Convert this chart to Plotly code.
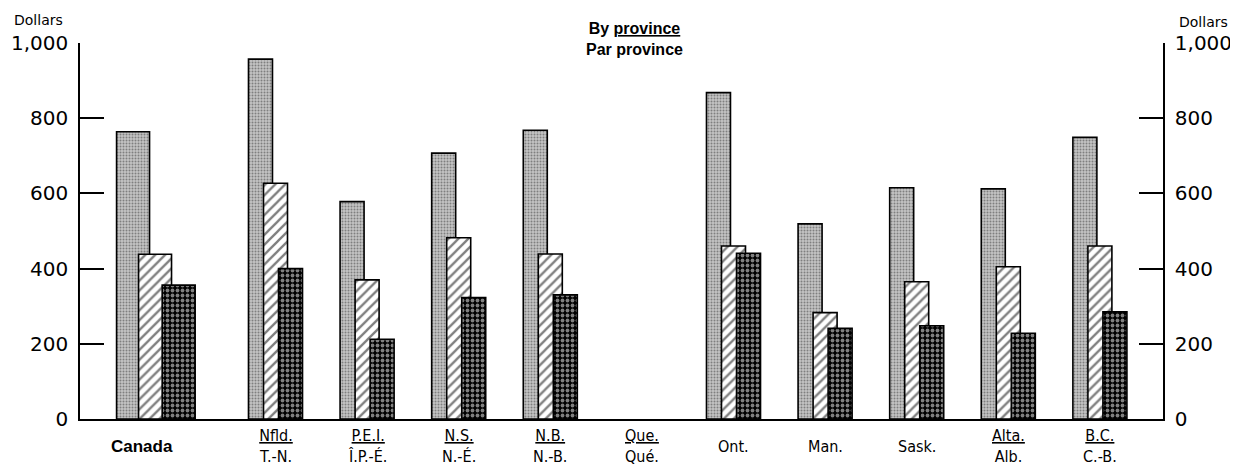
import plotly.graph_objects as go

# ---- data ----
categories = ["Canada", "Nfld.", "P.E.I.", "N.S.", "N.B.", "Que.", "Ont.", "Man.", "Sask.", "Alta.", "B.C."]
labels_fr = ["", "T.-N.", "Î.P.-É.", "N.-É.", "N.-B.", "Qué.", "", "", "", "Alb.", "C.-B."]
series_a = [764, 957, 578, 707, 768, None, 868, 519, 615, 612, 749]
series_b = [438, 627, 370, 482, 439, None, 460, 283, 365, 405, 460]
series_c = [356, 400, 212, 323, 330, None, 441, 241, 248, 228, 285]
y_tickvals = [0, 200, 400, 600, 800, 1000]
y_ticktext = ["0", "200", "400", "600", "800", "1,000"]

# ---- layout helpers (positions / styles) ----
group_pos = [-1.315] + [float(i) for i in range(len(categories) - 1)]
widths = [0.36] + [0.262] * (len(categories) - 1)
shifts = [[-0.24, 0.0, 0.258]] + [[-0.164, 0.0, 0.164]] * (len(categories) - 1)

patterns = [
    dict(shape=".", fgcolor="#3a3a3a", bgcolor="#c4c4c4", size=3, solidity=0.35),
    dict(shape="/", fgcolor="#000000", bgcolor="#ffffff", size=7, solidity=0.33),
    dict(shape=".", fgcolor="#ffffff", bgcolor="#000000", size=5, solidity=0.45),
]

fig = go.Figure()
for k, vals in enumerate([series_a, series_b, series_c]):
    xs = [p + s[k] for p, s in zip(group_pos, shifts)]
    fig.add_trace(go.Bar(
        x=xs, y=vals, width=widths,
        marker=dict(color="white", pattern=patterns[k],
                    line=dict(color="black", width=1.6)),
        showlegend=False, hoverinfo="skip",
    ))
# empty trace so that the right-hand mirror axis is drawn
fig.add_trace(go.Scatter(x=[None], y=[None], yaxis="y2", showlegend=False, hoverinfo="skip"))

# category labels under the baseline
label_font = dict(family="DejaVu Sans Condensed, Liberation Sans Narrow, sans-serif", size=16, color="black")
for i, (en, fr) in enumerate(zip(categories, labels_fr)):
    if i == 0:
        text = "<b>" + en + "</b>"
        xshift = -13
        font = dict(family="Liberation Sans Narrow, sans-serif", size=17, color="black")
    else:
        text = ("<u>" + en + "</u><br>" + fr) if fr else en
        xshift = 0
        font = label_font
    fig.add_annotation(x=group_pos[i], y=0, xref="x", yref="y", text=text,
                       showarrow=False, yanchor="middle", xanchor="center",
                       yshift=-27, xshift=xshift, font=font)

dollar_font = dict(family="DejaVu Sans", size=14, color="black")
fig.add_annotation(text="Dollars", xref="paper", yref="paper", x=-0.038, y=1.061,
                   xanchor="center", yanchor="middle", showarrow=False, font=dollar_font)
fig.add_annotation(text="Dollars", xref="paper", yref="paper", x=1.037, y=1.056,
                   xanchor="center", yanchor="middle", showarrow=False, font=dollar_font)
fig.add_annotation(text="<b>By <u>province</u></b><br><b>Par province</b>",
                   xref="paper", yref="paper", x=0.512, y=1.01,
                   xanchor="center", yanchor="middle", showarrow=False,
                   font=dict(family="Liberation Sans, Arial, sans-serif", size=16, color="black"))

axis_font = dict(family="DejaVu Sans, sans-serif", size=20, color="black")
x_left = (80 - 275.5) / 91.6
x_right = (1163 - 275.5) / 91.6
yaxis_style = dict(range=[0, 1000], tickvals=y_tickvals, ticktext=y_ticktext,
                   ticks="inside", ticklen=24, tickwidth=1.5, tickcolor="black",
                   showline=True, linecolor="black", linewidth=1.6,
                   showgrid=False, zeroline=False, tickfont=axis_font, ticklabelstandoff=6)

# the page body adds an 8px offset, so the figure is 8px smaller than the window
fig.update_layout(
    width=1230, height=459,
    margin=dict(l=72, r=75, t=35, b=48, autoexpand=False),
    paper_bgcolor="white", plot_bgcolor="white",
    barmode="overlay",
    xaxis=dict(range=[x_left, x_right], showline=True, linecolor="black", linewidth=1.6,
               showticklabels=False, ticks="", showgrid=False, zeroline=False),
    yaxis=dict(**yaxis_style),
    yaxis2=dict(overlaying="y", side="right", **yaxis_style),
)
fig.write_html("out.html")
